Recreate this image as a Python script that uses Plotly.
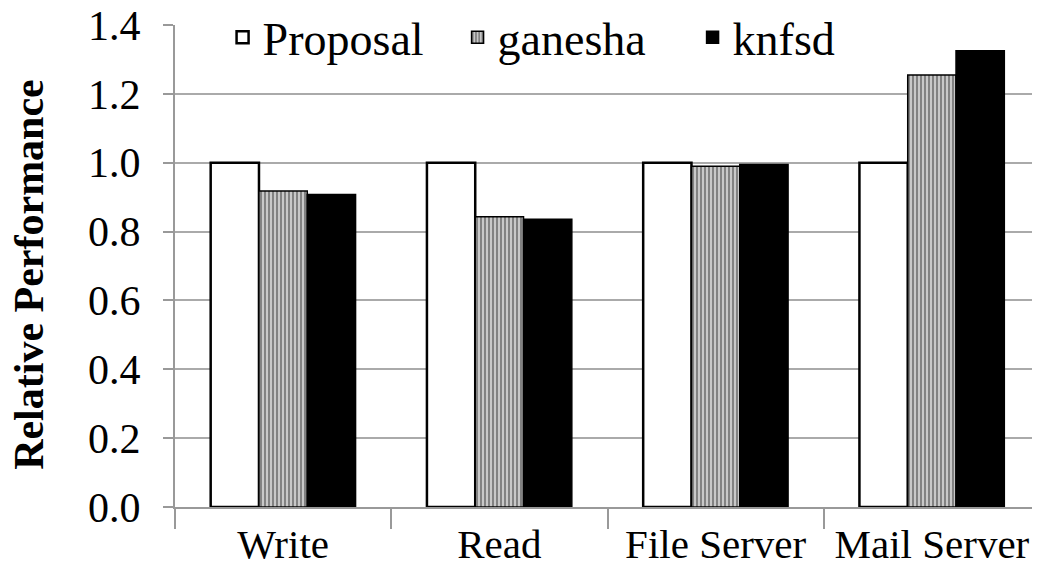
import plotly.graph_objects as go

categories = ["Write", "Read", "File Server", "Mail Server"]
proposal = [1.0, 1.0, 1.0, 1.0]
ganesha = [0.918, 0.843, 0.99, 1.255]
knfsd = [0.908, 0.836, 0.995, 1.325]
y_ticks = [0.0, 0.2, 0.4, 0.6, 0.8, 1.0, 1.2, 1.4]
y_tick_labels = ["0.0", "0.2", "0.4", "0.6", "0.8", "1.0", "1.2", "1.4"]
y_title = "Relative Performance"

FONT = "Liberation Serif"

fig = go.Figure()
fig.add_trace(go.Bar(name="Proposal", x=categories, y=proposal,
                     marker=dict(color="white", line=dict(color="black", width=2.5))))
fig.add_trace(go.Bar(name="ganesha", x=categories, y=ganesha,
                     marker=dict(color="#b8b8b8", line=dict(color="black", width=1.5),
                                 pattern=dict(shape="|", fgcolor="black", bgcolor="#c8c8c8",
                                              size=4, solidity=0.35))))
fig.add_trace(go.Bar(name="knfsd", x=categories, y=knfsd,
                     marker=dict(color="black", line=dict(color="black", width=1.5))))

# the page body has an 8px margin, so the figure is offset by 8px in the window
fig.update_layout(
    width=1032, height=564,
    margin=dict(l=167, r=0, t=17, b=65, autoexpand=False),
    paper_bgcolor="white", plot_bgcolor="white",
    barmode="group", bargap=0.33, bargroupgap=0,
    font=dict(family=FONT, color="black", size=40),
    legend=dict(orientation="h", x=0.055, y=1.05, xanchor="left", yanchor="top",
                font=dict(family=FONT, size=46, color="black"), bgcolor="rgba(255,255,255,0)",
                itemwidth=30, entrywidth=190, entrywidthmode="pixels", tracegroupgap=0),
    showlegend=True,
)
fig.update_xaxes(showline=True, linecolor="#999999", linewidth=2, automargin=False,
                 ticks="outside", tickson="boundaries", ticklen=20, tickcolor="#999999",
                 tickwidth=2, tickfont=dict(family=FONT, size=41, color="black"), showgrid=False,
                 ticklabeloverflow="allow")
fig.update_yaxes(range=[0, 1.4001], tickvals=y_ticks, ticktext=y_tick_labels, automargin=False,
                 showline=True, linecolor="#999999", linewidth=2,
                 ticks="outside", ticklen=10, tickcolor="#999999", tickwidth=2,
                 ticklabelstandoff=14, ticklabeloverflow="allow",
                 showgrid=True, gridcolor="#aaaaaa", gridwidth=2,
                 tickfont=dict(family=FONT, size=42, color="black"), zeroline=False)
fig.add_annotation(text=f"<b>{y_title}</b>", xref="paper", yref="paper",
                   x=-0.168, y=0.483, xanchor="center", yanchor="middle",
                   textangle=-90, showarrow=False,
                   font=dict(family=FONT, size=42, color="black"))

fig.write_html("out.html")
